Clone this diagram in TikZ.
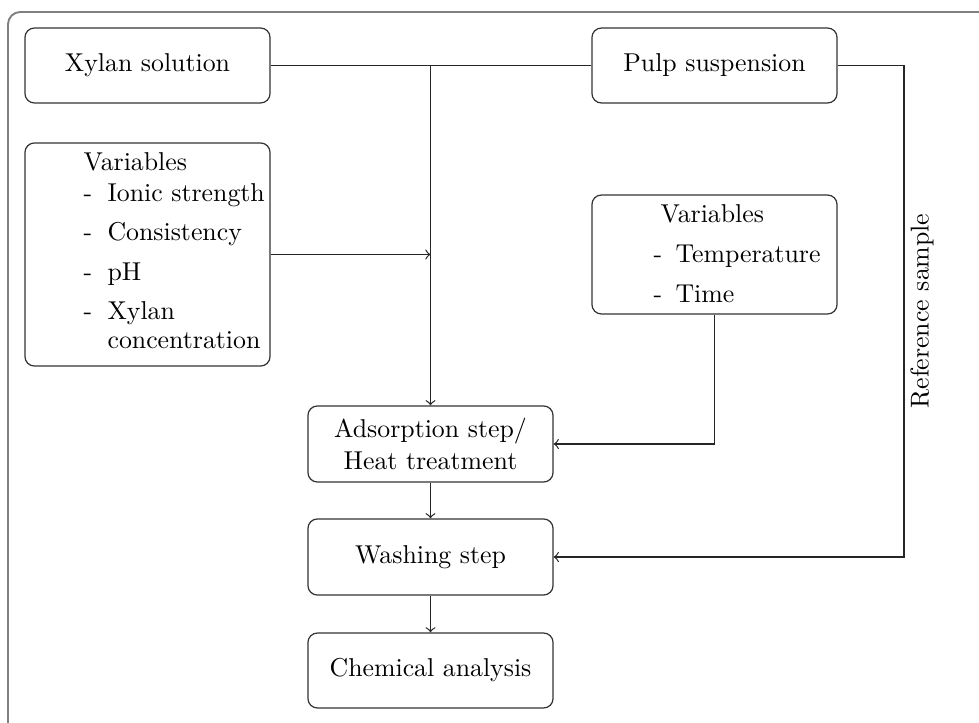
\documentclass[tikz,border=0pt]{standalone}
\begin{document}
\begin{tikzpicture}[x=0.368pt,y=-0.368pt,
  font=\fontsize{9.5}{12.1}\selectfont,
  box/.style={draw=black!80, rounded corners=3.5pt, line width=0.45pt, inner sep=0pt, minimum width=90.2pt, align=center},
  conn/.style={draw=black!85, line width=0.45pt},
  arr/.style={conn, ->},
  txt/.style={inner sep=0pt, anchor=base west}]
\useasboundingbox (0,0) rectangle (979,722);
\begin{scope}
\clip (0,0) rectangle (979,722);
\draw[gray, line width=0.7pt, rounded corners=4.5pt] (8,12) rectangle (1010,740);
\end{scope}
% boxes
\node[box, minimum height=27.6pt] (xs) at (147.5,65.5) {Xylan solution};
\node[box, minimum height=27.6pt] (ps) at (714.5,65.5) {Pulp suspension};
\node[box, minimum height=82.1pt] (vl) at (147.5,254.5) {};
\node[box, minimum height=43.8pt] (vr) at (714.5,254.5) {};
\node[box, minimum height=28pt] (ads) at (430.5,444) {Adsorption step/\\Heat treatment};
\node[box, minimum height=28pt] (wash) at (430.5,557) {Washing step};
\node[box, minimum height=27.6pt] (chem) at (430.5,670.5) {Chemical analysis};
% left variables text
\node[txt] (vlt) at (83,170.5) {Variables};
\node[txt] (vld1) at (83,201) {-};
\node[txt] (vli1) at (107,201) {Ionic strength};
\node[txt] (vld2) at (83,240.5) {-};
\node[txt] (vli2) at (107,240.5) {Consistency};
\node[txt] (vld3) at (83,280) {-};
\node[txt] (vli3) at (107,280) {pH};
\node[txt] (vld4) at (83,319.5) {-};
\node[txt] (vli4) at (107,319.5) {Xylan};
\node[txt] (vli5) at (107,348) {concentration};
% right variables text
\node[txt] (vrt) at (660,222) {Variables};
\node[txt] (vrd1) at (653,262) {-};
\node[txt] (vri1) at (675,262) {Temperature};
\node[txt] (vrd2) at (653,302.5) {-};
\node[txt] (vri2) at (675,302.5) {Time};
% reference sample
\node[rotate=90, inner sep=0pt] (ref) at (922,311) {Reference sample};
% connectors
\coordinate (j) at (430.5,65.5);
\coordinate (jv) at (430.5,254.5);
\coordinate (rc) at (904,65.5);
\draw[conn] (xs.east) -- (ps.west);
\draw[arr] (j) -- (ads.north);
\draw[arr] (vl.east) -- (jv);
\draw[arr] (vr.south) |- (ads.east);
\draw[arr] (ps.east) -- (rc) |- (wash.east);
\draw[arr] (ads.south) -- (wash.north);
\draw[arr] (wash.south) -- (chem.north);
\end{tikzpicture}
\end{document}
